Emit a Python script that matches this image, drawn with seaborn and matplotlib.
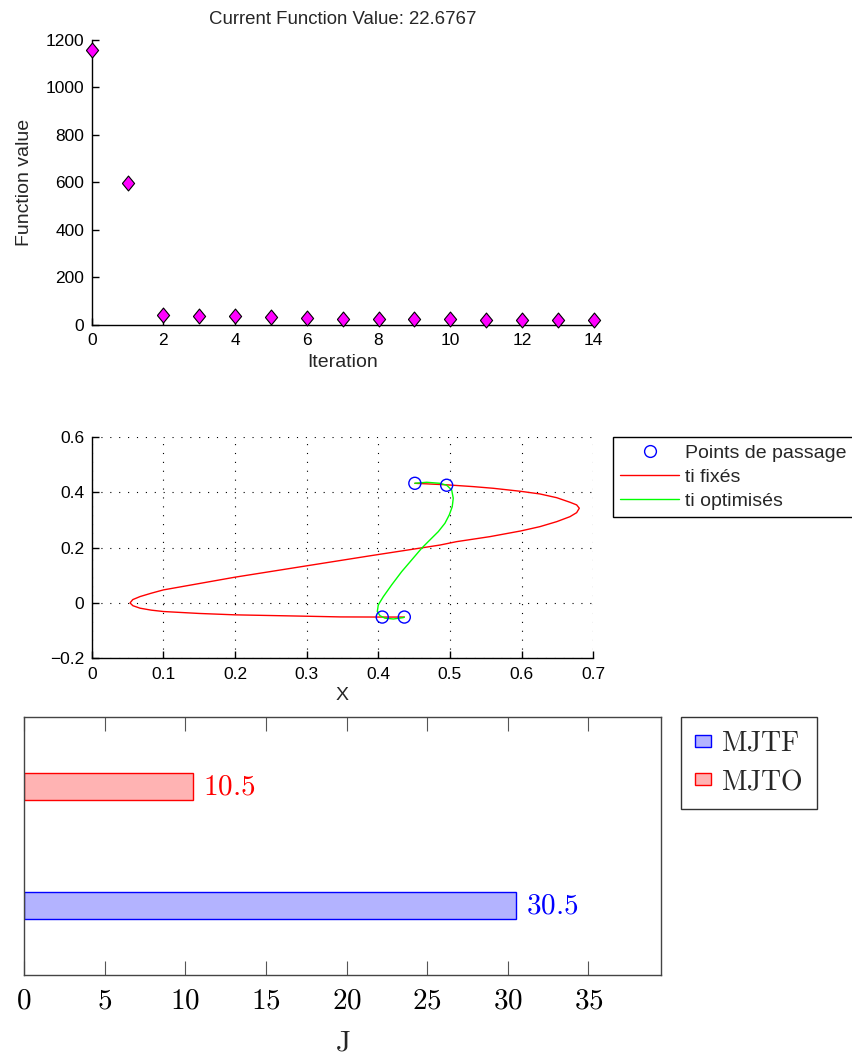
import matplotlib
matplotlib.use('Agg')
import matplotlib.pyplot as plt
import seaborn as sns
import pandas as pd
from matplotlib.patches import Patch
from matplotlib.lines import Line2D

# ---------------- data ----------------
iterations = list(range(15))
func_values = [1158, 596, 42, 38, 36, 35, 31, 27, 25, 24, 23.5, 23.2, 23.0, 22.8, 22.6767]

way_x = [0.451, 0.4954, 0.4055, 0.4363]
way_y = [0.432, 0.425, -0.051, -0.051]

fixed_x = [0.451, 0.4954, 0.5325, 0.5604, 0.599, 0.6256, 0.649, 0.6675, 0.6768, 0.6805,
           0.6768, 0.6675, 0.649, 0.6256, 0.599, 0.5558, 0.5093, 0.486, 0.388, 0.300,
           0.200, 0.100, 0.083, 0.0675, 0.0573, 0.0535, 0.0575, 0.0675, 0.083, 0.100,
           0.150, 0.200, 0.300, 0.347, 0.4055, 0.4363]
fixed_y = [0.432, 0.4265, 0.420, 0.414, 0.403, 0.3935, 0.380, 0.3635, 0.354, 0.342,
           0.326, 0.3115, 0.2935, 0.2755, 0.260, 0.2394, 0.2213, 0.209, 0.170, 0.134,
           0.093, 0.047, 0.035, 0.023, 0.012, 0.000, -0.010, -0.019, -0.026, -0.031,
           -0.038, -0.043, -0.048, -0.0505, -0.051, -0.051]

opt_x = [0.451, 0.4675, 0.486, 0.4954, 0.5024, 0.5046, 0.5032, 0.499, 0.493, 0.4837,
         0.472, 0.4605, 0.4465, 0.4326, 0.4186, 0.407, 0.400, 0.3986, 0.4023, 0.4093,
         0.421, 0.4349, 0.4363]
opt_y = [0.432, 0.4357, 0.432, 0.425, 0.408, 0.378, 0.3477, 0.3177, 0.2877, 0.2574,
         0.2274, 0.1975, 0.155, 0.113, 0.065, 0.0227, -0.007, -0.031, -0.046, -0.055,
         -0.058, -0.053, -0.051]

methods = ['MJTO', 'MJTF']
J_values = [10.5, 30.5]
method_fill = {'MJTO': '#ffb3b3', 'MJTF': '#b3b3ff'}
method_edge = {'MJTO': '#ff0000', 'MJTF': '#0000ff'}

# ---------------- style ----------------
sns.set_style('white')
plt.rcParams['font.family'] = ['Liberation Sans', 'DejaVu Sans']
plt.rcParams['mathtext.fontset'] = 'cm'
plt.rcParams['axes.linewidth'] = 1.0

fig = plt.figure(figsize=(8.53, 10.55), dpi=100)
ax1 = fig.add_axes([0.1075, 0.6919, 0.5885, 0.2706])
ax2 = fig.add_axes([0.1075, 0.3760, 0.5880, 0.2100])
ax3 = fig.add_axes([0.0281, 0.0754, 0.7468, 0.2450])

# ---------------- top: function value ----------------
diamond = [(-0.41, 0), (0, 0.5), (0.41, 0), (0, -0.5), (-0.41, 0)]
sns.scatterplot(x=iterations, y=func_values, ax=ax1, marker=diamond, s=115,
                color='#ff00ff', edgecolor='black', linewidth=0.8,
                clip_on=False, zorder=3)
ax1.set_xlim(0, 14)
ax1.set_ylim(0, 1200)
ax1.set_xticks(range(0, 15, 2))
ax1.set_yticks(range(0, 1201, 200))
for s in ['top', 'right']:
    ax1.spines[s].set_visible(False)
for s in ['left', 'bottom']:
    ax1.spines[s].set_color('black')
ax1.tick_params(direction='in', length=5, width=1, labelsize=12.5, colors='black',
                left=True, bottom=True)
ax1.tick_params(axis='x', pad=6)
ax1.tick_params(axis='y', pad=5.5)
ax1.set_xlabel('Iteration', fontsize=14, labelpad=4)
ax1.set_ylabel('Function value', fontsize=14, labelpad=9)
ax1.set_title('Current Function Value: 22.6767', fontsize=13.4, pad=11)

# ---------------- middle: trajectories ----------------
sns.scatterplot(x=way_x, y=way_y, ax=ax2, marker='o', s=75, facecolor='none',
                edgecolor='#0000ff', linewidth=1.0, zorder=4)
sns.lineplot(x=fixed_x, y=fixed_y, ax=ax2, sort=False, estimator=None,
             color='#ff0000', linewidth=1.0, zorder=3)
sns.lineplot(x=opt_x, y=opt_y, ax=ax2, sort=False, estimator=None,
             color='#00ff00', linewidth=1.0, zorder=3)
ax2.set_xlim(0, 0.7)
ax2.set_ylim(-0.2, 0.6)
xt = [0, 0.1, 0.2, 0.3, 0.4, 0.5, 0.6, 0.7]
ax2.set_xticks(xt)
ax2.set_xticklabels(['0', '0.1', '0.2', '0.3', '0.4', '0.5', '0.6', '0.7'])
yt = [-0.2, 0, 0.2, 0.4, 0.6]
ax2.set_yticks(yt)
ax2.set_yticklabels(['\u22120.2', '0', '0.2', '0.4', '0.6'])
ax2.grid(True, linestyle=(0, (1, 7)), color='black', linewidth=0.8)
for s in ['top', 'right']:
    ax2.spines[s].set_visible(False)
for s in ['left', 'bottom']:
    ax2.spines[s].set_color('black')
ax2.tick_params(direction='in', length=5, width=1, labelsize=12.5, colors='black',
                left=True, bottom=True)
ax2.tick_params(axis='x', pad=6)
ax2.tick_params(axis='y', pad=5.5)
ax2.set_xlabel('X', fontsize=14, labelpad=4)
ax2.set_ylabel('')
handles2 = [Line2D([], [], marker='o', linestyle='None', markersize=8.5,
                   markerfacecolor='none', markeredgecolor='#0000ff', markeredgewidth=1.0),
            Line2D([], [], color='#ff0000', linewidth=1.0),
            Line2D([], [], color='#00ff00', linewidth=1.0)]
leg2 = ax2.legend(handles2, ['Points de passage', 'ti fixés', 'ti optimisés'],
                  loc='upper left', bbox_to_anchor=(1.0387, 1.0), fontsize=14,
                  frameon=True, fancybox=False, edgecolor='black', framealpha=1,
                  handlelength=3.05, handletextpad=0.3, labelspacing=0.33,
                  borderpad=0.38, borderaxespad=0)
leg2.get_frame().set_linewidth(1.0)

# ---------------- bottom: bar chart ----------------
df = pd.DataFrame({'method': methods, 'J': J_values})
sns.barplot(data=df, y='method', x='J', hue='method', order=methods,
            palette=method_fill, orient='h', width=0.227, saturation=1,
            legend=False, ax=ax3)
for patch in ax3.patches:
    yc = patch.get_y() + patch.get_height() / 2
    name = methods[int(round(yc))]
    patch.set_edgecolor(method_edge[name])
    patch.set_linewidth(1.0)
for i, (m, v) in enumerate(zip(methods, J_values)):
    ax3.annotate(f'${v}$', xy=(v, i), xytext=(7, 0), textcoords='offset points',
                 va='center', ha='left', color=method_edge[m], fontsize=21)
ax3.set_xlim(0, 39.5)
ax3.set_ylim(1.585, -0.585)
ax3.set_yticks([])
ax3.set_ylabel('')
xt3 = [0, 5, 10, 15, 20, 25, 30, 35]
ax3.set_xticks(xt3)
ax3.set_xticklabels([f'${t}$' for t in xt3])
ax3.tick_params(axis='x', direction='in', length=10, width=0.8, color='#555555',
                top=True, bottom=True, labeltop=False, labelsize=21, pad=8,
                labelcolor='black')
for s in ax3.spines.values():
    s.set_visible(True)
    s.set_color('#444444')
    s.set_linewidth(1.0)
ax3.set_xlabel(r'$\mathrm{J}$', fontsize=21, labelpad=10)
handles3 = [Patch(facecolor=method_fill['MJTF'], edgecolor=method_edge['MJTF']),
            Patch(facecolor=method_fill['MJTO'], edgecolor=method_edge['MJTO'])]
leg3 = ax3.legend(handles3, [r'$\mathrm{MJTF}$', r'$\mathrm{MJTO}$'],
                  loc='upper left', bbox_to_anchor=(1.031, 1.0), fontsize=20,
                  frameon=True, fancybox=False, edgecolor='#333333', framealpha=1,
                  handlelength=0.6, handleheight=0.3, handletextpad=0.35,
                  labelspacing=0.45, borderpad=0.5, borderaxespad=0)
leg3.get_frame().set_linewidth(1.0)

fig.savefig('out.png', dpi=100)
